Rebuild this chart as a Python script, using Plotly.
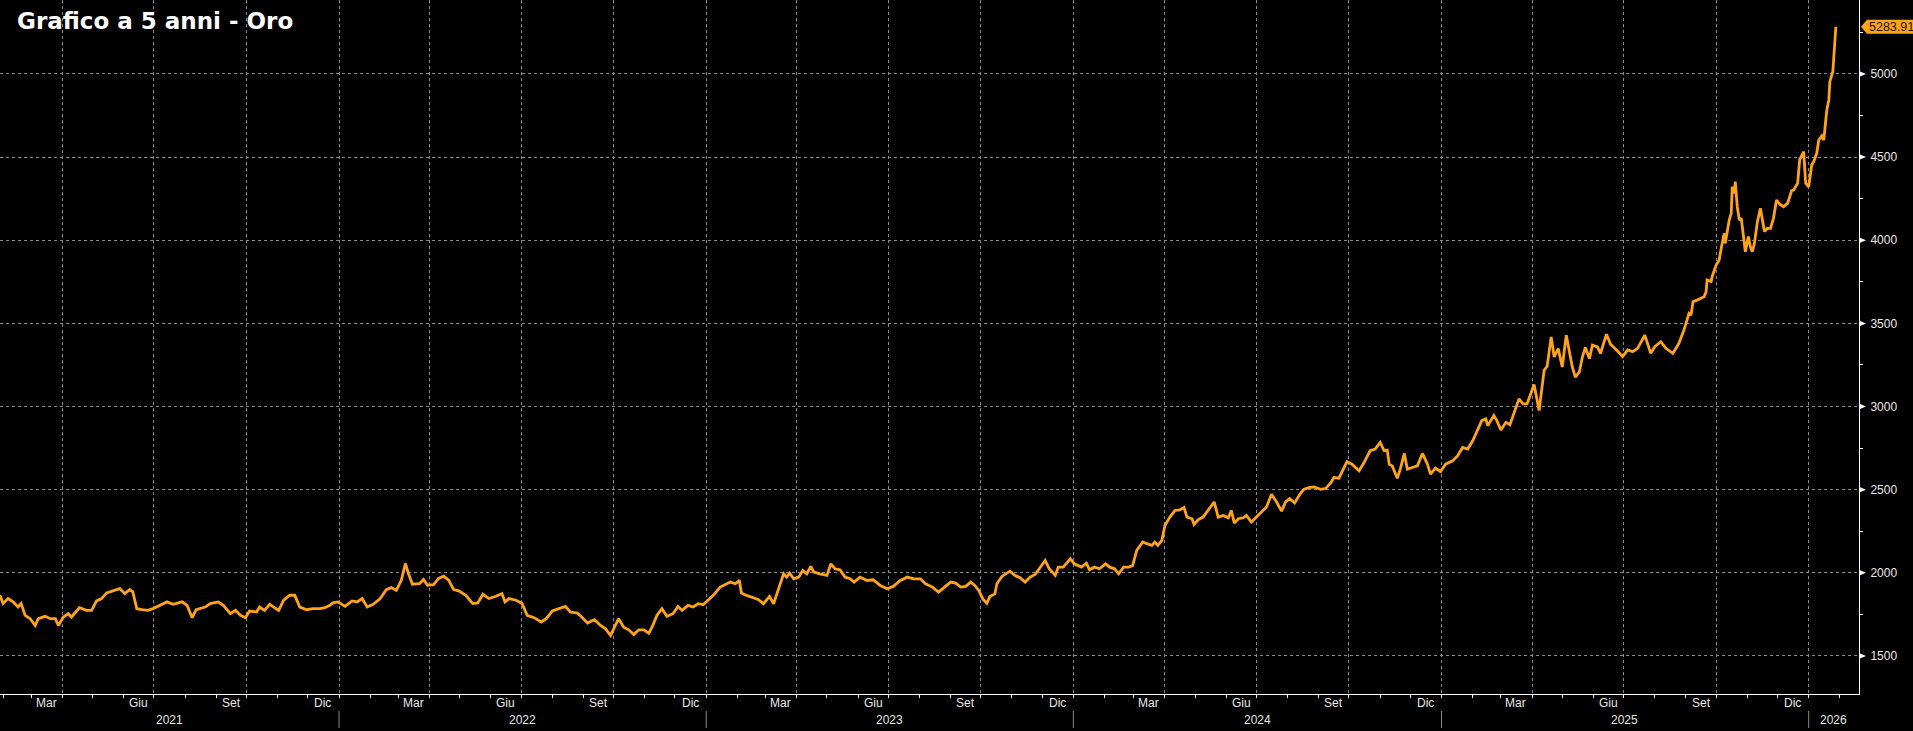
import plotly.graph_objects as go
import datetime as _dt

# ---------------- data ----------------
dates = [
    "2021-01-29", "2021-02-01", "2021-02-06", "2021-02-11", "2021-02-16", "2021-02-19", "2021-02-23",
    "2021-02-28", "2021-03-05", "2021-03-08", "2021-03-15", "2021-03-20", "2021-03-25", "2021-03-28",
    "2021-04-02", "2021-04-07", "2021-04-10", "2021-04-18", "2021-04-25", "2021-04-30", "2021-05-05",
    "2021-05-10", "2021-05-15", "2021-05-22", "2021-05-28", "2021-06-02", "2021-06-07", "2021-06-10",
    "2021-06-14", "2021-06-19", "2021-06-25", "2021-06-30", "2021-07-07", "2021-07-14", "2021-07-20",
    "2021-07-29", "2021-08-03", "2021-08-08", "2021-08-12", "2021-08-21", "2021-08-26", "2021-09-03",
    "2021-09-08", "2021-09-15", "2021-09-20", "2021-09-25", "2021-09-30", "2021-10-04", "2021-10-11",
    "2021-10-14", "2021-10-19", "2021-10-24", "2021-11-02", "2021-11-07", "2021-11-13", "2021-11-18",
    "2021-11-23", "2021-11-30", "2021-12-06", "2021-12-13", "2021-12-18", "2021-12-23", "2021-12-26",
    "2021-12-31",
    "2022-01-07", "2022-01-14", "2022-01-19", "2022-01-24", "2022-01-29", "2022-02-04", "2022-02-11",
    "2022-02-17", "2022-02-22", "2022-02-27", "2022-03-04", "2022-03-08", "2022-03-11", "2022-03-15",
    "2022-03-22", "2022-03-26", "2022-03-30", "2022-04-05", "2022-04-10", "2022-04-15", "2022-04-20",
    "2022-04-25", "2022-04-30", "2022-05-07", "2022-05-14", "2022-05-19", "2022-05-24", "2022-05-30",
    "2022-06-06", "2022-06-12", "2022-06-15", "2022-06-19", "2022-06-26", "2022-07-02", "2022-07-07",
    "2022-07-14", "2022-07-21", "2022-07-26", "2022-08-01", "2022-08-08", "2022-08-14", "2022-08-19",
    "2022-08-26", "2022-08-31", "2022-09-05", "2022-09-12", "2022-09-18", "2022-09-23", "2022-09-28",
    "2022-10-01", "2022-10-06", "2022-10-11", "2022-10-16", "2022-10-21", "2022-10-26", "2022-10-31",
    "2022-11-05", "2022-11-09", "2022-11-13", "2022-11-18", "2022-11-23", "2022-11-29", "2022-12-04",
    "2022-12-08", "2022-12-14", "2022-12-19", "2022-12-24", "2022-12-29",
    "2023-01-03", "2023-01-08", "2023-01-15", "2023-01-20", "2023-01-25", "2023-01-30", "2023-02-03",
    "2023-02-05", "2023-02-10", "2023-02-17", "2023-02-22", "2023-02-27", "2023-03-05", "2023-03-09",
    "2023-03-14", "2023-03-19", "2023-03-22", "2023-03-25", "2023-03-29", "2023-04-03", "2023-04-07",
    "2023-04-11", "2023-04-15", "2023-04-18", "2023-04-24", "2023-05-01", "2023-05-05", "2023-05-09",
    "2023-05-14", "2023-05-19", "2023-05-24", "2023-05-28", "2023-06-03", "2023-06-10", "2023-06-16",
    "2023-06-23", "2023-06-30", "2023-07-06", "2023-07-13", "2023-07-20", "2023-07-26", "2023-08-02",
    "2023-08-07", "2023-08-14", "2023-08-20", "2023-08-25", "2023-09-01", "2023-09-06", "2023-09-11",
    "2023-09-16", "2023-09-21", "2023-09-25", "2023-09-29", "2023-10-03", "2023-10-07", "2023-10-10",
    "2023-10-15", "2023-10-17", "2023-10-22", "2023-10-25", "2023-10-30", "2023-11-04", "2023-11-09",
    "2023-11-14", "2023-11-19", "2023-11-24", "2023-11-29", "2023-12-04", "2023-12-08", "2023-12-14",
    "2023-12-17", "2023-12-22", "2023-12-29",
    "2024-01-02", "2024-01-09", "2024-01-14", "2024-01-17", "2024-01-22", "2024-01-27", "2024-02-02",
    "2024-02-06", "2024-02-11", "2024-02-15", "2024-02-20", "2024-02-25", "2024-02-29", "2024-03-04",
    "2024-03-10", "2024-03-14", "2024-03-19", "2024-03-22", "2024-03-25", "2024-03-29", "2024-04-01",
    "2024-04-06", "2024-04-11", "2024-04-16", "2024-04-20", "2024-04-23", "2024-04-28", "2024-04-30",
    "2024-05-04", "2024-05-09", "2024-05-14", "2024-05-20", "2024-05-24", "2024-05-29", "2024-06-03",
    "2024-06-06", "2024-06-09", "2024-06-13", "2024-06-18", "2024-06-21", "2024-06-26", "2024-07-01",
    "2024-07-06", "2024-07-11", "2024-07-16", "2024-07-21", "2024-07-26", "2024-07-30", "2024-08-03",
    "2024-08-08", "2024-08-13", "2024-08-17", "2024-08-22", "2024-08-27", "2024-09-03", "2024-09-08",
    "2024-09-13", "2024-09-16", "2024-09-21", "2024-09-26", "2024-09-29", "2024-10-04", "2024-10-11",
    "2024-10-16", "2024-10-22", "2024-10-27", "2024-11-01", "2024-11-05", "2024-11-08", "2024-11-10",
    "2024-11-13", "2024-11-18", "2024-11-21", "2024-11-25", "2024-11-28", "2024-12-03", "2024-12-08",
    "2024-12-13", "2024-12-18", "2024-12-21", "2024-12-26", "2024-12-31",
    "2025-01-05", "2025-01-12", "2025-01-17", "2025-01-22", "2025-01-27", "2025-02-01", "2025-02-06",
    "2025-02-10", "2025-02-14", "2025-02-16", "2025-02-22", "2025-02-25", "2025-03-01", "2025-03-06",
    "2025-03-10", "2025-03-14", "2025-03-19", "2025-03-23", "2025-03-27", "2025-04-03", "2025-04-08",
    "2025-04-13", "2025-04-16", "2025-04-20", "2025-04-23", "2025-04-27", "2025-05-01", "2025-05-05",
    "2025-05-08", "2025-05-11", "2025-05-14", "2025-05-18", "2025-05-21", "2025-05-24", "2025-05-28",
    "2025-05-31", "2025-06-05", "2025-06-08", "2025-06-14", "2025-06-18", "2025-06-24", "2025-06-30",
    "2025-07-05", "2025-07-10", "2025-07-15", "2025-07-22", "2025-07-28", "2025-08-01", "2025-08-07",
    "2025-08-12", "2025-08-19", "2025-08-25", "2025-08-30", "2025-09-02", "2025-09-04", "2025-09-06",
    "2025-09-08", "2025-09-12", "2025-09-16", "2025-09-19", "2025-09-21", "2025-09-22", "2025-09-26",
    "2025-09-27", "2025-10-01", "2025-10-04", "2025-10-06", "2025-10-09", "2025-10-10", "2025-10-12",
    "2025-10-14", "2025-10-16", "2025-10-17", "2025-10-19", "2025-10-20", "2025-10-22", "2025-10-24",
    "2025-10-26", "2025-10-29", "2025-10-30", "2025-11-02", "2025-11-04", "2025-11-06", "2025-11-08",
    "2025-11-11", "2025-11-14", "2025-11-16", "2025-11-18", "2025-11-21", "2025-11-24", "2025-11-27",
    "2025-11-30", "2025-12-03", "2025-12-07", "2025-12-11", "2025-12-15", "2025-12-17", "2025-12-21",
    "2025-12-23", "2025-12-27", "2025-12-29",
    "2026-01-01", "2026-01-04", "2026-01-06", "2026-01-09", "2026-01-11", "2026-01-14", "2026-01-16",
    "2026-01-19", "2026-01-21", "2026-01-22", "2026-01-25", "2026-01-26", "2026-01-28",
]

prices = [
    1865, 1815, 1845, 1825, 1795, 1815, 1744,
    1724, 1683, 1724, 1738, 1724, 1724, 1683,
    1734, 1754, 1734, 1790, 1774, 1774, 1831,
    1845, 1879, 1895, 1905, 1875, 1899, 1885,
    1784, 1778, 1774, 1784, 1804, 1825, 1810,
    1825, 1804, 1730, 1778, 1794, 1815, 1825,
    1804, 1754, 1774, 1744, 1730, 1770, 1764,
    1794, 1774, 1810, 1774, 1835, 1865, 1865,
    1794, 1778, 1784, 1784, 1790, 1804, 1819,
    1825,
    1798, 1831, 1825, 1845, 1794, 1810, 1845,
    1899, 1911, 1895, 1956, 2056, 1996, 1931,
    1935, 1960, 1925, 1929, 1966, 1980, 1956,
    1899, 1891, 1865, 1815, 1819, 1871, 1845,
    1859, 1875, 1825, 1845, 1835, 1815, 1744,
    1730, 1704, 1724, 1770, 1784, 1798, 1764,
    1758, 1730, 1698, 1718, 1683, 1663, 1623,
    1663, 1724, 1673, 1657, 1629, 1657, 1657,
    1637, 1684, 1744, 1784, 1738, 1754, 1798,
    1774, 1804, 1794, 1814, 1808,
    1838, 1864, 1914, 1930, 1944, 1934, 1954,
    1878, 1864, 1850, 1838, 1814, 1858, 1814,
    1910, 1994, 1974, 1998, 1964, 1974, 2014,
    1994, 2038, 2004, 1994, 1984, 2054, 2024,
    2018, 1974, 1964, 1944, 1974, 1954, 1958,
    1924, 1904, 1918, 1954, 1974, 1964, 1964,
    1934, 1914, 1884, 1910, 1944, 1938, 1914,
    1918, 1944, 1924, 1894, 1843, 1817, 1857,
    1873, 1934, 1978, 1990, 2010, 1984, 1970,
    1944, 1974, 1990, 2034, 2074, 2024, 1984,
    2034, 2034, 2084,
    2054, 2034, 2058, 2018, 2034, 2024, 2054,
    2034, 2024, 1994, 2034, 2034, 2044, 2135,
    2185, 2175, 2165, 2185, 2165, 2195, 2285,
    2335, 2375, 2379, 2392, 2335, 2325, 2291,
    2319, 2335, 2375, 2426, 2335, 2345, 2331,
    2375, 2299, 2325, 2331, 2345, 2305, 2335,
    2371, 2396, 2472, 2426, 2371, 2426, 2446,
    2420, 2470, 2502, 2512, 2516, 2502, 2508,
    2542, 2573, 2569, 2633, 2669, 2653, 2613,
    2663, 2734, 2744, 2784, 2734, 2738, 2653,
    2643, 2569, 2623, 2718, 2623, 2633, 2643,
    2718, 2653, 2593, 2629, 2609,
    2653, 2673, 2704, 2754, 2744, 2794, 2865,
    2915, 2925, 2885, 2946, 2915, 2859, 2905,
    2891, 2966, 3046, 3016, 3016, 3133, 2976,
    3218, 3242, 3419, 3298, 3349, 3238, 3429,
    3329, 3238, 3177, 3208, 3298, 3355, 3288,
    3369, 3359, 3319, 3435, 3375, 3340, 3300,
    3340, 3330, 3350, 3430, 3320, 3360, 3390,
    3350, 3320, 3380, 3460, 3520, 3560, 3550,
    3630, 3640, 3650, 3660, 3690, 3761, 3751,
    3781, 3851, 3881, 3951, 4042, 3981, 4062,
    4122, 4162, 4322, 4282, 4353, 4202, 4122,
    4132, 3981, 3931, 4022, 3961, 3931, 3981,
    4112, 4192, 4122, 4052, 4072, 4072, 4132,
    4242, 4218, 4202, 4222, 4298, 4302, 4343,
    4483, 4533, 4343,
    4322, 4453, 4473, 4523, 4603, 4627, 4603,
    4784, 4844, 4954, 5015, 5105, 5283.91,
]

title_text = "Grafico a 5 anni - Oro"
y_ticks = [1500, 2000, 2500, 3000, 3500, 4000, 4500, 5000]
month_names = {3: "Mar", 6: "Giu", 9: "Set", 12: "Dic"}
years = [2021, 2022, 2023, 2024, 2025, 2026]
x_start, x_end = "2021-01-29", "2026-02-20"
y_min, y_max = 1271, 5445

# ---------------- styling ----------------
ORANGE = "#FFA31A"
GRID = "#8a8a8a"
TXT = "#e8e8e8"
FONT = "Liberation Sans"

fig = go.Figure()
fig.add_trace(go.Scatter(x=dates, y=prices, mode="lines",
                         line=dict(color=ORANGE, width=2.8), hoverinfo="skip",
                         showlegend=False))

fig.update_layout(
    width=1913, height=731, autosize=False,
    paper_bgcolor="black", plot_bgcolor="black",
    margin=dict(l=0, r=54, t=0, b=37),
    showlegend=False,
    font=dict(family=FONT, size=12, color=TXT),
)

fig.update_xaxes(
    type="date", range=[x_start, x_end],
    tick0="2021-01-01", dtick="M3",
    showgrid=True, gridcolor=GRID, griddash="3px,3px", gridwidth=1,
    ticks="outside", ticklen=3, tickcolor="white", tickwidth=1,
    showticklabels=False,
    minor=dict(tick0="2021-01-01", dtick="M1", ticks="outside", ticklen=3,
               tickcolor="white", tickwidth=1, showgrid=False),
    showline=True, linecolor="white", linewidth=1,
    zeroline=False, fixedrange=True,
)

fig.update_yaxes(
    side="right", range=[y_min, y_max],
    tickmode="array", tickvals=y_ticks, ticktext=[str(v) for v in y_ticks],
    showgrid=True, gridcolor=GRID, griddash="3px,3px", gridwidth=1,
    ticks="outside", ticklen=8, tickcolor="rgba(0,0,0,0)",
    tickfont=dict(family=FONT, size=12, color=TXT),
    minor=dict(tickmode="array",
               tickvals=[v + 250 for v in [1250] + y_ticks],
               ticks="outside", ticklen=3, tickcolor="white", showgrid=False),
    showline=True, linecolor="white", linewidth=1,
    zeroline=False, fixedrange=True,
)

shapes = []
# tick triangles on the right axis
for v in y_ticks:
    shapes.append(dict(type="path", xref="paper", yref="y",
                       xsizemode="pixel", ysizemode="pixel", xanchor=1, yanchor=v,
                       path="M 1 -2.5 L 7 0 L 1 2.5 Z",
                       fillcolor="white", line=dict(width=0)))

# last value flag
last_val = prices[-1]
shapes.append(dict(type="path", xref="paper", yref="y",
                   xsizemode="pixel", ysizemode="pixel", xanchor=1, yanchor=last_val,
                   path="M 2 0 L 8 7 L 70 7 L 70 -7 L 8 -7 Z",
                   fillcolor=ORANGE, line=dict(width=0)))

annotations = [
    dict(text="<b>" + title_text + "</b>", xref="paper", yref="paper", x=0, y=1,
         xanchor="left", yanchor="middle", xshift=15, yshift=-21, showarrow=False,
         font=dict(family="DejaVu Sans", size=23, color="white")),
    dict(text="%.2f" % last_val, xref="paper", yref="y", x=1, y=last_val,
         xanchor="left", yanchor="middle", xshift=8, showarrow=False,
         font=dict(family=FONT, size=12.5, color="#1a1000")),
]

# month and year labels on the time axis
d0 = _dt.date.fromisoformat(x_start)
d1 = _dt.date.fromisoformat(x_end)
for yr in years:
    for m, name in month_names.items():
        ms = _dt.date(yr, m, 1)
        me = _dt.date(yr + (m == 12), (m % 12) + 1, 1)
        if ms >= d0 and me <= d1:
            mid = ms + (me - ms) / 2
            annotations.append(dict(text=name, xref="x", yref="paper", x=mid.isoformat(), y=0,
                                    xanchor="center", yanchor="middle", yshift=-9,
                                    showarrow=False, font=dict(family=FONT, size=12, color=TXT)))
    ys = max(_dt.date(yr, 1, 1), d0)
    ye = min(_dt.date(yr + 1, 1, 1), d1)
    mid = ys + (ye - ys) / 2
    annotations.append(dict(text=str(yr), xref="x", yref="paper", x=mid.isoformat(), y=0,
                            xanchor="center", yanchor="middle", yshift=-26,
                            showarrow=False, font=dict(family=FONT, size=12, color=TXT)))
    if _dt.date(yr, 1, 1) > d0:
        shapes.append(dict(type="line", xref="x", yref="paper",
                           x0=f"{yr}-01-01", x1=f"{yr}-01-01",
                           ysizemode="pixel", yanchor=0, y0=-17, y1=-34,
                           line=dict(color=GRID, width=1)))

fig.update_layout(shapes=shapes, annotations=annotations)
fig.write_html("out.html", include_plotlyjs=True, config={"displayModeBar": False})
